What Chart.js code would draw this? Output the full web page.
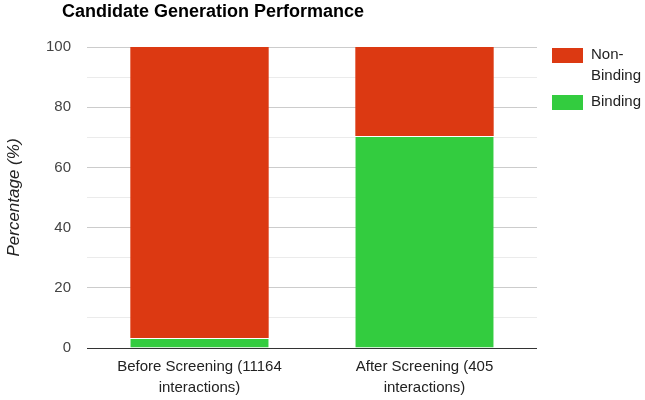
<!DOCTYPE html>
<html><head><meta charset="utf-8">
<script src="https://cdn.jsdelivr.net/npm/chart.js@4/dist/chart.umd.min.js"></script>
<style>html,body{margin:0;padding:0;background:#fff}#wrap{width:645px;height:400px}</style>
</head><body><div id="wrap"><canvas id="c" width="645" height="400"></canvas></div>
<script>
const categories = [["Before Screening (11164","interactions)"],["After Screening (405","interactions)"]];
const binding = [3.3, 70.4];
const nonBinding = [96.7, 29.6];
const seriesLabels = ["Binding", "Non-Binding"];
const legendLines = {"Non-Binding": ["Non-", "Binding"], "Binding": ["Binding"]};
const titleText = "Candidate Generation Performance";
const FONT = "'Liberation Sans', Arial, sans-serif";

const overlay = {
  id: 'overlay',
  afterDraw(chart) {
    const ctx = chart.ctx;
    ctx.save();
    ctx.fillStyle = '#000';
    ctx.font = 'bold 18px ' + FONT;
    ctx.textBaseline = 'middle';
    ctx.textAlign = 'left';
    ctx.fillText(titleText, 62, 12);
    // legend
    const order = [1, 0];
    let y = 48;
    ctx.font = '15px ' + FONT;
    order.forEach(i => {
      const ds = chart.data.datasets[i];
      ctx.fillStyle = ds.backgroundColor;
      ctx.fillRect(552, y, 31, 15);
      ctx.fillStyle = '#222';
      const lines = legendLines[ds.label];
      lines.forEach((t, k) => ctx.fillText(t, 591, y + 7 + k * 21));
      y += 47;
    });
    ctx.restore();
  }
};

new Chart(document.getElementById('c'), {
  type: 'bar',
  data: {
    labels: categories,
    datasets: [
      { label: seriesLabels[0], data: binding, backgroundColor: '#33cc3f', borderColor: '#fff', borderWidth: {top: 1}, borderSkipped: 'bottom', categoryPercentage: 1, barPercentage: 0.615 },
      { label: seriesLabels[1], data: nonBinding, backgroundColor: '#dc3912', borderColor: '#fff', borderWidth: 0, categoryPercentage: 1, barPercentage: 0.615 }
    ]
  },
  options: {
    responsive: false,
    animation: false,
    layout: { padding: { top: 47, right: 108, left: 0, bottom: 0 } },
    plugins: { legend: { display: false }, title: { display: false }, tooltip: { enabled: false } },
    scales: {
      x: {
        stacked: true,
        grid: { display: false, drawTicks: false },
        border: { display: false },
        ticks: { color: '#222', font: { family: FONT, size: 15, lineHeight: 1.4 }, padding: 8, maxRotation: 0 },
        afterFit(s) { s.height = 52; }
      },
      y: {
        stacked: true,
        min: 0, max: 100,
        ticks: { stepSize: 10, color: '#444', font: { family: FONT, size: 15 }, padding: 16,
          callback: v => (v % 20 === 0 ? String(v) : '') },
        grid: { drawTicks: false, color: c => c.tick.value === 0 ? '#333' : (c.tick.value % 20 === 0 ? '#cccccc' : '#ebebeb'), lineWidth: 1 },
        border: { display: false },
        title: { display: true, text: 'Percentage (%)', color: '#222', font: { family: FONT, size: 17, style: 'italic' }, padding: { top: 4, bottom: 0 } },
        afterFit(s) { s.width = 87; }
      }
    }
  },
  plugins: [overlay]
});
</script></body></html>
